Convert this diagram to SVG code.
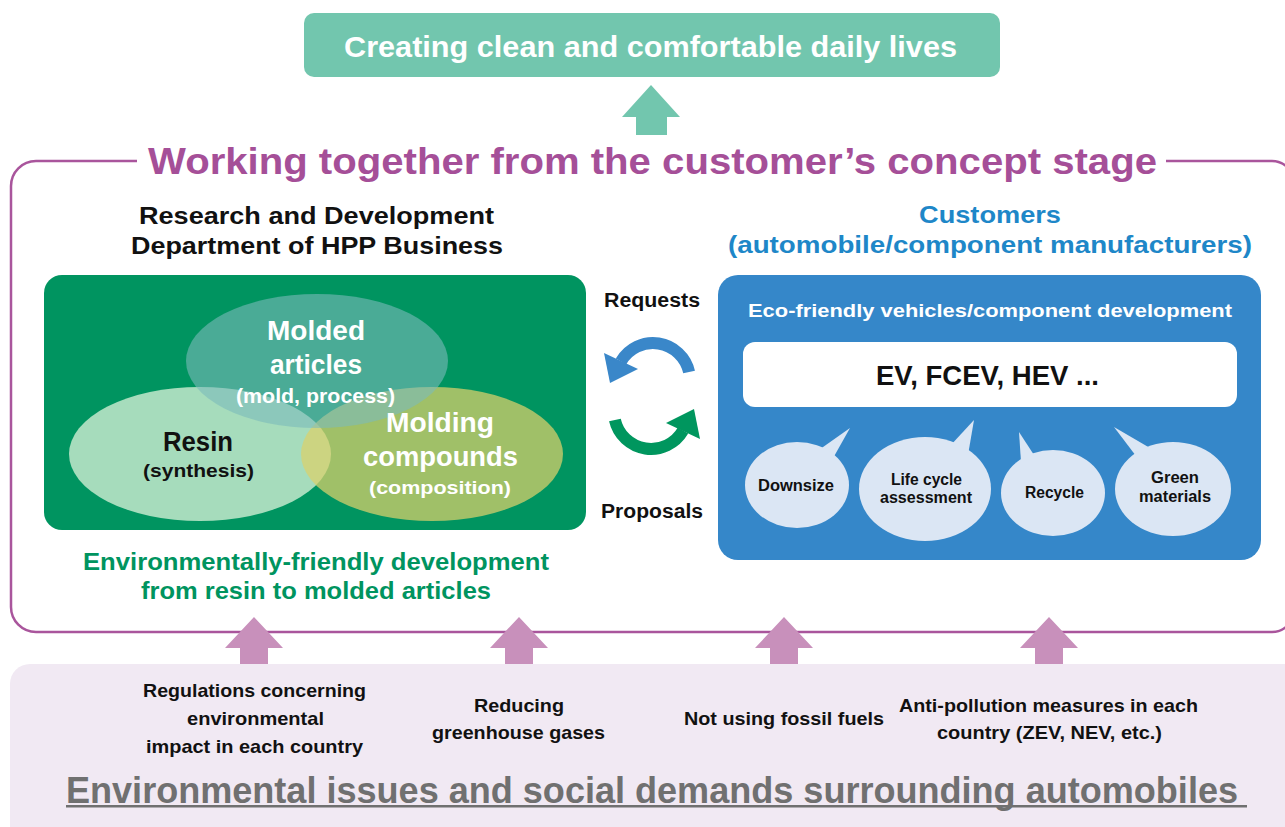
<svg xmlns="http://www.w3.org/2000/svg" width="1285" height="827" viewBox="0 0 1285 827">
<style>
.t{font-family:"Liberation Sans",Arial,Helvetica,sans-serif;font-weight:bold;text-anchor:middle}
.w{fill:#ffffff}
.k{fill:#111111}
.bub{fill:#dbe6f4}
.pa{fill:#c890bb}
</style>
<rect width="1285" height="827" fill="#ffffff"/>

<!-- bottom band -->
<g id="bottom-band">
<path d="M10,827 L10,684 A20,20 0 0 1 30,664 L1285,664 L1285,827 Z" fill="#f1e9f3"/>
<text class="t k" font-size="19" x="254.5" y="697" textLength="223" lengthAdjust="spacingAndGlyphs">Regulations concerning</text>
<text class="t k" font-size="19" x="255.5" y="725" textLength="137" lengthAdjust="spacingAndGlyphs">environmental</text>
<text class="t k" font-size="19" x="254.5" y="753" textLength="217" lengthAdjust="spacingAndGlyphs">impact in each country</text>
<text class="t k" font-size="19" x="519" y="712" textLength="90" lengthAdjust="spacingAndGlyphs">Reducing</text>
<text class="t k" font-size="19" x="518.5" y="739" textLength="173" lengthAdjust="spacingAndGlyphs">greenhouse gases</text>
<text class="t k" font-size="19" x="784" y="725" textLength="200" lengthAdjust="spacingAndGlyphs">Not using fossil fuels</text>
<text class="t k" font-size="19" x="1048.5" y="712" textLength="299" lengthAdjust="spacingAndGlyphs">Anti-pollution measures in each</text>
<text class="t k" font-size="19" x="1049.5" y="739" textLength="225" lengthAdjust="spacingAndGlyphs">country (ZEV, NEV, etc.)</text>
<text class="t" font-size="36" x="652" y="803" fill="#707070" textLength="1172" lengthAdjust="spacingAndGlyphs">Environmental issues and social demands surrounding automobiles</text>
<rect x="66" y="805" width="1181" height="2.5" fill="#707070"/>
</g>

<!-- outer frame -->
<g id="frame">
<path d="M1166,161 L1272,161 A22,22 0 0 1 1294,183 L1294,610 A22,22 0 0 1 1272,632 L36,632 A25,25 0 0 1 11,607 L11,186 A25,25 0 0 1 36,161 L137,161" fill="none" stroke="#a9559c" stroke-width="2.5"/>
<text class="t" font-size="37" x="652.5" y="174" fill="#a54f98" textLength="1009" lengthAdjust="spacingAndGlyphs">Working together from the customer’s concept stage</text>
</g>

<!-- top goal -->
<g id="goal">
<rect x="304" y="13" width="696" height="64" rx="10" fill="#72c6ae"/>
<text class="t w" font-size="30" x="650.5" y="57" textLength="613" lengthAdjust="spacingAndGlyphs">Creating clean and comfortable daily lives</text>
</g>

<!-- connectors -->
<g id="connectors">
<polygon points="651,85 680,117 667,117 667,135 636,135 636,117 622,117" fill="#72c6ae"/>
<polygon class="pa" points="254,617 283,648 268,648 268,664 240,664 240,648 225,648"/>
<polygon class="pa" points="519,617 548,648 533,648 533,664 505,664 505,648 490,648"/>
<polygon class="pa" points="784,617 813,648 798,648 798,664 770,664 770,648 755,648"/>
<polygon class="pa" points="1049,617 1078,648 1063,648 1063,664 1035,664 1035,648 1020,648"/>
<path d="M689.1,372 A37,37 0 0 0 621,361.5" fill="none" stroke="#3a87c9" stroke-width="12"/>
<polygon points="604,353 610,383 638,369" fill="#3a87c9"/>
<path d="M614.9,420 A37,37 0 0 0 683,430.5" fill="none" stroke="#00965e" stroke-width="12"/>
<polygon points="700,439 694,409 666,423" fill="#00965e"/>
<text class="t k" font-size="20" x="652" y="307" textLength="96" lengthAdjust="spacingAndGlyphs">Requests</text>
<text class="t k" font-size="20" x="652" y="518" textLength="102" lengthAdjust="spacingAndGlyphs">Proposals</text>
</g>

<!-- left: R&D -->
<g id="rnd">
<text class="t k" font-size="24" x="316.5" y="224" textLength="355" lengthAdjust="spacingAndGlyphs">Research and Development</text>
<text class="t k" font-size="24" x="317" y="254" textLength="372" lengthAdjust="spacingAndGlyphs">Department of HPP Business</text>
<rect x="44" y="275" width="542" height="255" rx="18" fill="#009460"/>
<text class="t" font-size="24" x="316" y="570" fill="#00945f" textLength="466" lengthAdjust="spacingAndGlyphs">Environmentally-friendly development</text>
<text class="t" font-size="24" x="316" y="599" fill="#00945f" textLength="350" lengthAdjust="spacingAndGlyphs">from resin to molded articles</text>
</g>

<g id="resin">
<ellipse cx="200" cy="454" rx="131" ry="67" fill="#a6dcbc"/>
</g>
<g id="compounds">
<ellipse cx="432" cy="454" rx="131" ry="67" fill="#dad06c" fill-opacity="0.735"/>
</g>
<g id="molded">
<ellipse cx="317" cy="361" rx="131" ry="67" fill="#7bbbba" fill-opacity="0.6"/>
<text class="t w" font-size="27" x="316" y="340" textLength="98" lengthAdjust="spacingAndGlyphs">Molded</text>
<text class="t w" font-size="27" x="316" y="374" textLength="92" lengthAdjust="spacingAndGlyphs">articles</text>
<text class="t w" font-size="20" x="315.5" y="403" textLength="159" lengthAdjust="spacingAndGlyphs">(mold, process)</text>
</g>
<g id="resin-label">
<text class="t k" font-size="27" x="198" y="451" textLength="70" lengthAdjust="spacingAndGlyphs">Resin</text>
<text class="t k" font-size="19" x="198.5" y="477" textLength="111" lengthAdjust="spacingAndGlyphs">(synthesis)</text>
</g>
<g id="compounds-label">
<text class="t w" font-size="27" x="440" y="432" textLength="108" lengthAdjust="spacingAndGlyphs">Molding</text>
<text class="t w" font-size="27" x="440.5" y="466" textLength="155" lengthAdjust="spacingAndGlyphs">compounds</text>
<text class="t w" font-size="19" x="440" y="494" textLength="142" lengthAdjust="spacingAndGlyphs">(composition)</text>
</g>

<!-- right: customers -->
<g id="customers">
<text class="t" font-size="24" x="990" y="223" fill="#1e87c8" textLength="142" lengthAdjust="spacingAndGlyphs">Customers</text>
<text class="t" font-size="24" x="990" y="253" fill="#1e87c8" textLength="524" lengthAdjust="spacingAndGlyphs">(automobile/component manufacturers)</text>
<rect x="718" y="275" width="543" height="285" rx="20" fill="#3587c9"/>
<text class="t w" font-size="19" x="990" y="317" textLength="484" lengthAdjust="spacingAndGlyphs">Eco-friendly vehicles/component development</text>
</g>
<g id="vehicles">
<rect x="743" y="342" width="494" height="65" rx="12" fill="#ffffff"/>
<text class="t k" font-size="28" x="987.5" y="385" textLength="223" lengthAdjust="spacingAndGlyphs">EV, FCEV, HEV ...</text>
</g>
<g id="downsize">
<polygon class="bub" points="850,428 816,452 832,460"/>
<ellipse class="bub" cx="797" cy="485" rx="52" ry="43"/>
<text class="t k" font-size="16" x="796" y="491" textLength="76" lengthAdjust="spacingAndGlyphs">Downsize</text>
</g>
<g id="lca">
<polygon class="bub" points="974,420 950,446 968,455"/>
<ellipse class="bub" cx="925" cy="489" rx="66" ry="52"/>
<text class="t k" font-size="16" x="926.5" y="485" textLength="71" lengthAdjust="spacingAndGlyphs">Life cycle</text>
<text class="t k" font-size="16" x="926" y="503" textLength="92" lengthAdjust="spacingAndGlyphs">assessment</text>
</g>
<g id="recycle">
<polygon class="bub" points="1019,432 1021,462 1034,455"/>
<ellipse class="bub" cx="1053" cy="493" rx="52" ry="43"/>
<text class="t k" font-size="16" x="1054.5" y="498" textLength="59" lengthAdjust="spacingAndGlyphs">Recycle</text>
</g>
<g id="green-materials">
<polygon class="bub" points="1114,427 1136,456 1150,448"/>
<ellipse class="bub" cx="1173" cy="489" rx="58" ry="47"/>
<text class="t k" font-size="16" x="1175" y="483" textLength="48" lengthAdjust="spacingAndGlyphs">Green</text>
<text class="t k" font-size="16" x="1175" y="502" textLength="72" lengthAdjust="spacingAndGlyphs">materials</text>
</g>
</svg>
